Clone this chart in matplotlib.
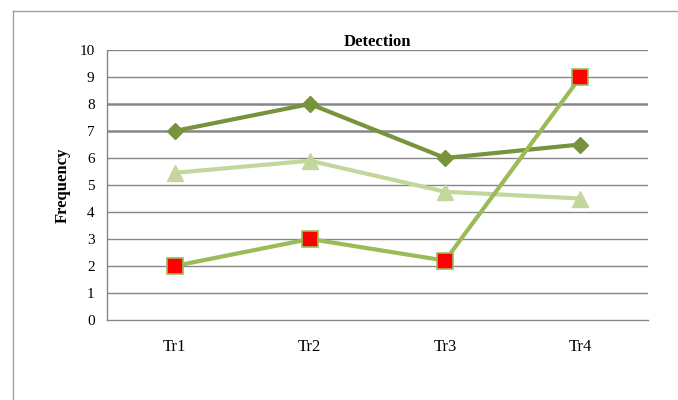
import matplotlib.pyplot as plt
from matplotlib.lines import Line2D
import numpy as np

plt.rcParams['font.family'] = ['Liberation Serif', 'DejaVu Serif']

# Data
categories = ['Tr1', 'Tr2', 'Tr3', 'Tr4']
series_diamond = [7, 8, 6, 6.5]
series_triangle = [5.45, 5.9, 4.75, 4.5]
series_square = [2, 3, 2.2, 9]
yticks = list(range(0, 11))

fig = plt.figure(figsize=(6.78, 4), dpi=100)
ax = fig.add_axes([107 / 678, 80 / 400, 541 / 678, 270 / 400])

x = np.arange(len(categories))

# Gridlines (7 and 8 render heavier in the original)
for v in yticks[1:]:
    lw = 1.8 if v in (7, 8) else 1.0
    ax.axhline(v, color='#868686', linewidth=lw, zorder=1)

ax.plot(x, series_diamond, color='#77933C', linewidth=3, marker='D',
        markersize=8, zorder=3)
ax.plot(x, series_triangle, color='#C3D69B', linewidth=3, marker='^',
        markersize=11, zorder=3)
ax.plot(x, series_square, color='#9BBB59', linewidth=3, marker='s',
        markersize=11, markerfacecolor='#FF0000', markeredgecolor='#9BBB59',
        markeredgewidth=1.2, zorder=4)

ax.set_xlim(-0.5, 3.5)
ax.set_ylim(0, 10)
ax.set_xticks(x)
ax.set_xticklabels(categories, fontsize=12)
ax.set_yticks(yticks)
ax.set_yticklabels([str(v) for v in yticks], fontsize=11)
ax.tick_params(length=0)
ax.tick_params(axis='x', pad=14)
ax.tick_params(axis='y', pad=9)

for side in ['top', 'right']:
    ax.spines[side].set_visible(False)
for side in ['left', 'bottom']:
    ax.spines[side].set_color('#868686')
    ax.spines[side].set_linewidth(1.0)

ax.set_title('Detection', fontsize=12, fontweight='bold', pad=2)
ax.set_ylabel('Frequency', fontsize=12, fontweight='bold', labelpad=6)

# Outer frame (partial border of the original screenshot)
fig.add_artist(Line2D([13 / 678, 13 / 678], [0, 1 - 11 / 400],
                      transform=fig.transFigure, color='#A0A0A0', linewidth=1))
fig.add_artist(Line2D([13 / 678, 1], [1 - 11 / 400, 1 - 11 / 400],
                      transform=fig.transFigure, color='#A0A0A0', linewidth=1))

fig.savefig('out.png', dpi=100)
